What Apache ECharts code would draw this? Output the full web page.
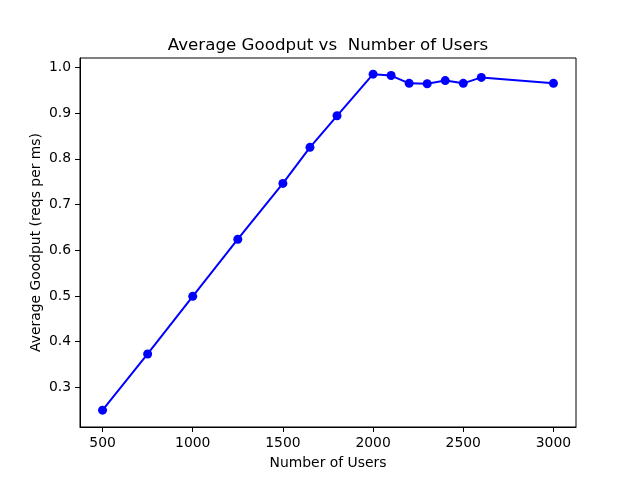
<!DOCTYPE html>
<html>
<head>
<meta charset="utf-8">
<script src="https://cdn.jsdelivr.net/npm/echarts@6/dist/echarts.min.js"></script>
<style>
html,body{margin:0;padding:0;background:#fff;}
#chart{width:640px;height:480px;}
</style>
</head>
<body>
<div id="chart"></div>
<script>
// 数据
var users=[500,750,1000,1250,1500,1650,1800,2000,2100,2200,2300,2400,2500,2600,3000];
var goodput=[0.25,0.373,0.499,0.624,0.746,0.825,0.894,0.985,0.982,0.965,0.964,0.971,0.965,0.978,0.965];
var xTicks=[500,1000,1500,2000,2500,3000];
var yTicks=[0.3,0.4,0.5,0.6,0.7,0.8,0.9,1.0];

var font='DejaVu Sans';
var chart=echarts.init(document.getElementById('chart'),null,{renderer:'canvas'});

var points=[];
for(var i=0;i<users.length;i++){
    points.push([users[i],goodput[i]]);
}

chart.setOption({
    animation:false,
    backgroundColor:'#fff',
    title:{
        text:'Average Goodput vs  Number of Users',
        left:323,
        top:32,
        textAlign:'center',
        textStyle:{fontFamily:font,fontSize:16.7,fontWeight:'normal',color:'#000'}
    },
    grid:{
        left:80,right:64,top:58,bottom:53,
        show:true,borderColor:'#000',borderWidth:1,backgroundColor:'#fff'
    },
    xAxis:{
        type:'value',
        min:375,max:3125,
        name:'Number of Users',
        nameLocation:'middle',
        nameGap:29,
        nameMoveOverlap:false,
        nameTextStyle:{fontFamily:font,fontSize:13.9,color:'#000'},
        splitLine:{show:false},
        axisLine:{show:true,lineStyle:{color:'#000',width:1}},
        axisTick:{show:true,length:5,lineStyle:{color:'#000'},customValues:xTicks},
        axisLabel:{fontFamily:font,fontSize:13.9,color:'#000',margin:9,customValues:xTicks,
            formatter:function(v){return String(v);}}
    },
    yAxis:{
        type:'value',
        min:0.2132,max:1.0204,
        name:'Average Goodput (reqs per ms)',
        nameLocation:'middle',
        nameGap:37,
        nameMoveOverlap:false,
        nameTextStyle:{fontFamily:font,fontSize:13.9,color:'#000'},
        splitLine:{show:false},
        axisLine:{show:true,lineStyle:{color:'#000',width:1}},
        axisTick:{show:true,length:5,lineStyle:{color:'#000'},customValues:yTicks},
        axisLabel:{fontFamily:font,fontSize:13.9,color:'#000',margin:9,customValues:yTicks,
            formatter:function(v){return v.toFixed(1);}}
    },
    series:[{
        type:'line',
        data:points,
        symbol:'circle',
        symbolSize:9,
        lineStyle:{color:'#0000ff',width:2},
        itemStyle:{color:'#0000ff'}
    }]
});
</script>
</body>
</html>
